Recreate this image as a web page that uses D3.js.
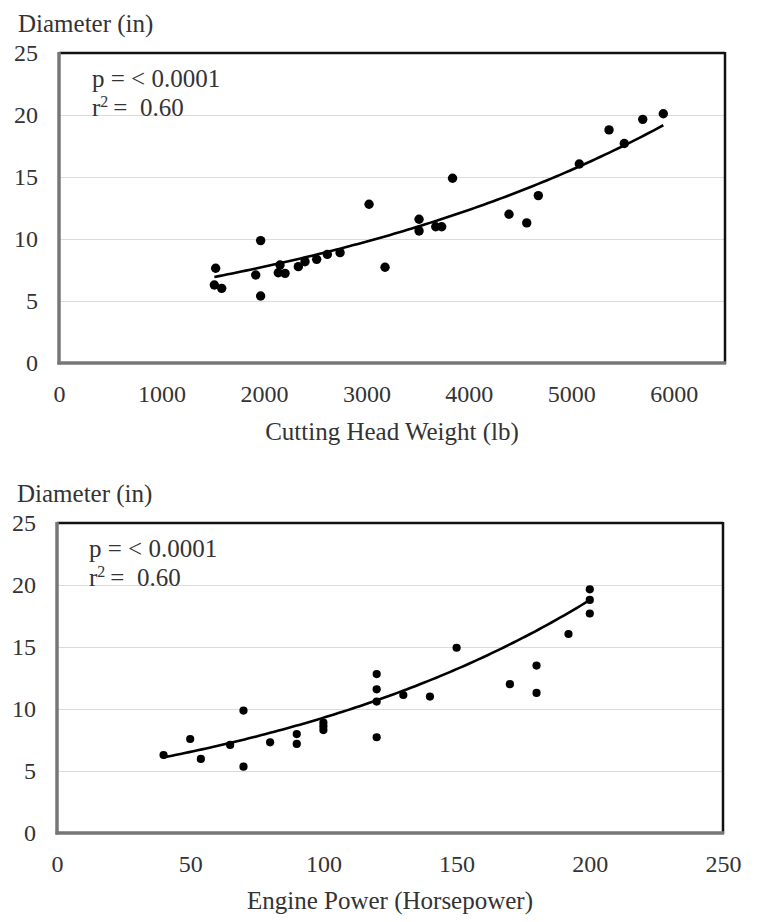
<!DOCTYPE html>
<html>
<head>
<meta charset="utf-8">
<script src="https://cdn.jsdelivr.net/npm/d3@7"></script>
<style>
  html, body { margin: 0; padding: 0; background: #fff; }
  svg { display: block; }
  text { font-family: "Liberation Serif", "Times New Roman", serif; fill: #333; }
</style>
</head>
<body>
<svg id="chart" width="759" height="922"></svg>
<script>
// ---- Data ----
// Panel 1: Cutting head weight (lb) vs diameter (in)
const weightLb = [1529, 1516, 1588, 1920, 1968, 1968, 2157, 2140, 2206, 2336, 2401, 2515, 2619, 2743, 3026, 3182, 3514, 3514, 3677, 3735, 3841, 4392, 4565, 4678, 5078, 5368, 5517, 5697, 5898];
const weightDiam = [7.64, 6.29, 6.02, 7.10, 9.87, 5.40, 7.90, 7.28, 7.23, 7.77, 8.17, 8.36, 8.76, 8.90, 12.8, 7.72, 11.59, 10.65, 10.99, 10.99, 14.9, 12.0, 11.3, 13.5, 16.05, 18.8, 17.7, 19.65, 20.1];
// Panel 2: Engine power (hp) vs diameter (in)
const powerHp = [40, 50, 54, 65, 70, 70, 80, 90, 90, 100, 100, 100, 120, 120, 120, 120, 130, 140, 150, 170, 180, 180, 192, 200, 200, 200];
const powerDiam = [6.29, 7.58, 5.97, 7.10, 9.87, 5.35, 7.31, 7.98, 7.18, 8.90, 8.60, 8.30, 12.82, 11.59, 10.6, 7.72, 11.13, 11.0, 14.94, 12.0, 13.5, 11.3, 16.05, 19.65, 18.8, 17.7];

// Trendlines (exponential y = a·e^(b·x)), coefficients
const weightTrend = { a: 4.88, b: 0.000232 };
const powerTrend = { a: 4.60, b: 0.007035 };

const yTicks = [0, 5, 10, 15, 20, 25];
const weightTicks = [0, 1000, 2000, 3000, 4000, 5000, 6000];
const powerTicks = [0, 50, 100, 150, 200, 250];

const statP = "p = < 0.0001";
const statR = "0.60";

const svg = d3.select("#chart");

function panel(cfg) {
  const g = svg.append("g");
  const x = d3.scaleLinear().domain(cfg.xDomain).range([cfg.left, cfg.right]);
  const y = d3.scaleLinear().domain([0, 25]).range([cfg.bottom, cfg.top]);

  // gridlines
  g.append("g")
    .attr("transform", `translate(${cfg.left},0)`)
    .call(d3.axisLeft(y).tickValues(yTicks.slice(1, -1)).tickSize(-(cfg.right - cfg.left)).tickFormat(""))
    .call(s => s.select(".domain").remove())
    .call(s => s.selectAll("line").attr("stroke", "#e2d9d6").attr("stroke-width", 1.2));

  // y tick labels
  g.append("g")
    .attr("transform", `translate(${cfg.left},0)`)
    .call(d3.axisLeft(y).tickValues(yTicks).tickSize(0).tickPadding(cfg.left - cfg.yLabelX))
    .call(s => s.select(".domain").remove())
    .call(s => s.selectAll("text").attr("font-size", 24).attr("fill", "#333")
      .style("font-family", '"Liberation Serif", serif'));

  // x tick labels
  g.append("g")
    .attr("transform", `translate(0,${cfg.bottom})`)
    .call(d3.axisBottom(x).tickValues(cfg.xTicks).tickSize(0).tickPadding(cfg.xLabelPad).tickFormat(d3.format("d")))
    .call(s => s.select(".domain").remove())
    .call(s => s.selectAll("text").attr("font-size", 24).attr("fill", "#333")
      .style("font-family", '"Liberation Serif", serif'));

  // frame: top/right black, left/bottom gray
  g.append("line").attr("x1", cfg.left).attr("x2", cfg.right).attr("y1", cfg.top).attr("y2", cfg.top)
    .attr("stroke", "#111").attr("stroke-width", 2.5);
  g.append("line").attr("x1", cfg.right).attr("x2", cfg.right).attr("y1", cfg.top - 1).attr("y2", cfg.bottom + 1)
    .attr("stroke", "#111").attr("stroke-width", 2.5);
  g.append("line").attr("x1", cfg.left).attr("x2", cfg.left).attr("y1", cfg.top - 1).attr("y2", cfg.bottom + 1.5)
    .attr("stroke", "#777").attr("stroke-width", 3.5);
  g.append("line").attr("x1", cfg.left - 1.5).attr("x2", cfg.right + 1).attr("y1", cfg.bottom).attr("y2", cfg.bottom)
    .attr("stroke", "#777").attr("stroke-width", 3.5);

  // trend line
  const f = v => cfg.trend.a * Math.exp(cfg.trend.b * v);
  const [x0, x1] = d3.extent(cfg.xs);
  const pts = d3.range(0, 101).map(i => x0 + (x1 - x0) * i / 100);
  g.append("path")
    .attr("d", d3.line().x(d => x(d)).y(d => y(f(d)))(pts))
    .attr("fill", "none").attr("stroke", "#000").attr("stroke-width", 2.6);

  // points
  g.append("g").selectAll("circle").data(cfg.xs.map((v, i) => [v, cfg.ys[i]])).join("circle")
    .attr("cx", d => x(d[0])).attr("cy", d => y(d[1])).attr("r", cfg.r).attr("fill", "#000");

  // stats text
  g.append("text").attr("x", cfg.statX).attr("y", cfg.top + 34).attr("font-size", 25).attr("fill", "#222").text(statP);
  const t = g.append("text").attr("x", cfg.statX).attr("y", cfg.top + 63).attr("font-size", 25).attr("fill", "#222")
    .attr("xml:space", "preserve").style("white-space", "pre");
  t.append("tspan").text("r");
  t.append("tspan").attr("font-size", 16).attr("dy", -9).text("2");
  t.append("tspan").attr("dy", 9).text("\u2009= \u00a0" + statR);

  // axis titles
  g.append("text").attr("x", cfg.yTitleX).attr("y", cfg.top - 21).attr("font-size", 25).text("Diameter (in)");
  g.append("text").attr("x", (cfg.left + cfg.right) / 2).attr("y", cfg.xTitleY)
    .attr("text-anchor", "middle").attr("font-size", 25).text(cfg.xTitle);
}

panel({
  xs: weightLb, ys: weightDiam, trend: weightTrend, xDomain: [0, 6500], xTicks: weightTicks,
  left: 59, right: 725, top: 53, bottom: 363, yLabelX: 38, xLabelPad: 22,
  r: 4.7, statX: 92, yTitleX: 18, xTitleY: 440, xTitle: "Cutting Head Weight (lb)"
});
panel({
  xs: powerHp, ys: powerDiam, trend: powerTrend, xDomain: [0, 250], xTicks: powerTicks,
  left: 57, right: 723, top: 523, bottom: 833, yLabelX: 36, xLabelPad: 22,
  r: 4.1, statX: 89, yTitleX: 17, xTitleY: 909, xTitle: "Engine Power (Horsepower)"
});
</script>
</body>
</html>
